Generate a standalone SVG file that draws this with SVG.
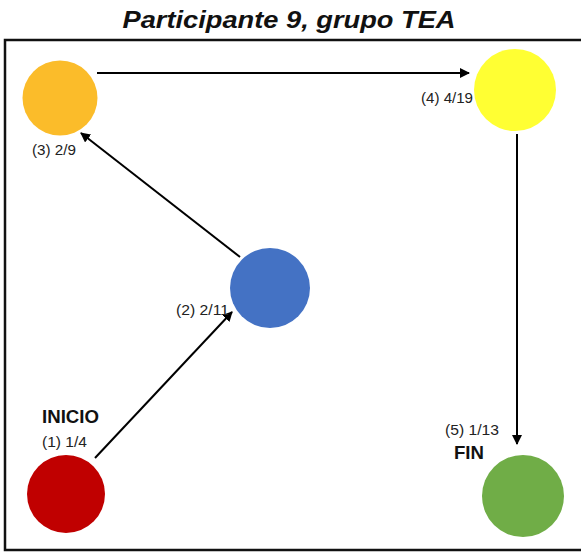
<svg xmlns="http://www.w3.org/2000/svg" width="581" height="552" viewBox="0 0 581 552">
<style>
.lbl{font-family:"Liberation Sans",Arial,sans-serif;font-size:14px;fill:#222}
.big{font-family:"Liberation Sans",Arial,sans-serif;font-size:18px;font-weight:bold;fill:#111}
.ttl{font-family:"Liberation Sans",Arial,sans-serif;font-size:24px;font-weight:bold;font-style:italic;fill:#111}
.edge{stroke:#000;stroke-width:2;fill:none;marker-end:url(#ah)}
</style>
<defs>
<marker id="ah" viewBox="0 0 10 10" refX="9" refY="5" markerWidth="5" markerHeight="5" orient="auto" markerUnits="strokeWidth">
<path d="M0,0 L10,5 L0,10 z" fill="#000"/>
</marker>
</defs>
<rect width="581" height="552" fill="#fff"/>
<text class="ttl" x="289" y="28" text-anchor="middle" textLength="333" lengthAdjust="spacingAndGlyphs">Participante 9, grupo TEA</text>
<rect x="5" y="40" width="580" height="510" fill="none" stroke="#111" stroke-width="2.5"/>
<g id="connectors">
<line class="edge" x1="97" y1="73" x2="469" y2="73"/>
<line class="edge" x1="517" y1="134" x2="517" y2="444"/>
<line class="edge" x1="95" y1="458" x2="232" y2="312"/>
<line class="edge" x1="240" y1="257" x2="81" y2="133"/>
</g>
<g id="n1">
<circle cx="66" cy="494" r="39" fill="#C00000"/>
<text class="big" x="42" y="423" textLength="57" lengthAdjust="spacingAndGlyphs">INICIO</text>
<text class="lbl" x="42" y="447" textLength="45" lengthAdjust="spacingAndGlyphs">(1) 1/4</text>
</g>
<g id="n2">
<circle cx="270" cy="288" r="40" fill="#4472C4"/>
<text class="lbl" x="176" y="315" textLength="53" lengthAdjust="spacingAndGlyphs">(2) 2/11</text>
</g>
<g id="n3">
<circle cx="60" cy="98" r="37.5" fill="#FBBC2A"/>
<text class="lbl" x="32" y="155" textLength="44" lengthAdjust="spacingAndGlyphs">(3) 2/9</text>
</g>
<g id="n4">
<circle cx="515" cy="90" r="41" fill="#FFFF33"/>
<text class="lbl" x="421" y="103" textLength="52" lengthAdjust="spacingAndGlyphs">(4) 4/19</text>
</g>
<g id="n5">
<circle cx="523" cy="496" r="41" fill="#70AD47"/>
<text class="lbl" x="445" y="435" textLength="54" lengthAdjust="spacingAndGlyphs">(5) 1/13</text>
<text class="big" x="454" y="459" textLength="30" lengthAdjust="spacingAndGlyphs">FIN</text>
</g>
</svg>
